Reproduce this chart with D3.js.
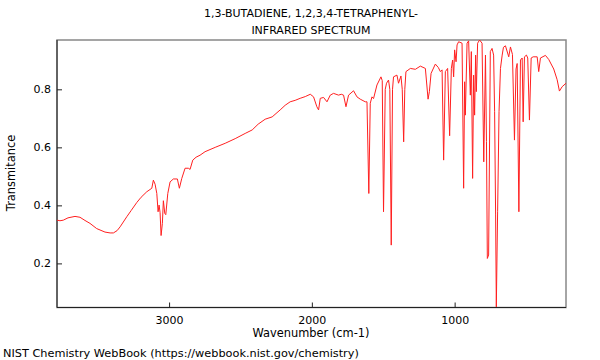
<!DOCTYPE html>
<html>
<head>
<meta charset="utf-8">
<script src="https://cdn.jsdelivr.net/npm/d3@7"></script>
<style>
  html, body { margin: 0; padding: 0; background: #fff; }
  svg { display: block; font-family: "DejaVu Sans", sans-serif; }
</style>
</head>
<body>
<svg id="chart" width="600" height="360"></svg>
<script>
// Wavenumber (cm-1)
const wavenumbers = [3785,3764,3741,3708,3659,3624,3589,3554,3507,3449,3413,3390,3364,3343,3296,3266,3226,3196,3156,3121,3110,3098,3086,3077,3070,3063,3056,3047,3040,3030,3023,3009,2993,2970,2942,2928,2911,2888,2865,2853,2834,2811,2783,2748,2677,2607,2537,2467,2418,2376,2327,2278,2222,2187,2152,2117,2082,2046,2011,1988,1965,1953,1941,1918,1894,1871,1848,1813,1794,1778,1761,1743,1708,1684,1661,1626,1614,1601,1591,1579,1568,1544,1516,1507,1498,1486,1477,1463,1454,1444,1435,1428,1404,1393,1376,1367,1357,1349,1341,1310,1275,1240,1205,1186,1177,1165,1135,1114,1100,1088,1077,1065,1049,1035,1023,1014,1007,1000,990,983,972,948,937,930,925,913,902,890,883,874,867,860,853,848,839,825,808,796,784,777,771,762,750,738,727,720,713,708,699,689,679,667,658,644,621,609,595,581,570,562,550,539,527,520,511,497,488,476,464,450,422,411,399,364,341,306,282,266,247,220];
// Transmittance
const transmittance = [0.349,0.347,0.349,0.357,0.362,0.359,0.348,0.338,0.320,0.308,0.305,0.305,0.313,0.326,0.361,0.382,0.410,0.428,0.447,0.459,0.487,0.473,0.441,0.378,0.401,0.375,0.296,0.338,0.416,0.372,0.368,0.441,0.481,0.491,0.491,0.459,0.493,0.528,0.528,0.524,0.556,0.566,0.573,0.585,0.600,0.614,0.630,0.648,0.660,0.680,0.697,0.705,0.729,0.745,0.757,0.762,0.769,0.775,0.783,0.774,0.740,0.729,0.769,0.772,0.757,0.780,0.786,0.780,0.783,0.780,0.740,0.780,0.795,0.774,0.766,0.757,0.757,0.441,0.752,0.774,0.768,0.815,0.843,0.830,0.378,0.800,0.821,0.832,0.800,0.263,0.800,0.843,0.849,0.821,0.846,0.800,0.619,0.800,0.861,0.872,0.869,0.880,0.872,0.766,0.792,0.855,0.887,0.875,0.861,0.867,0.556,0.861,0.872,0.640,0.872,0.901,0.843,0.936,0.895,0.953,0.964,0.959,0.459,0.826,0.711,0.959,0.967,0.780,0.930,0.493,0.849,0.711,0.918,0.792,0.959,0.970,0.959,0.550,0.918,0.620,0.217,0.229,0.930,0.941,0.918,0.723,0.367,0.050,0.378,0.723,0.872,0.918,0.945,0.950,0.912,0.946,0.920,0.625,0.870,0.889,0.378,0.901,0.908,0.688,0.912,0.918,0.908,0.694,0.908,0.912,0.912,0.861,0.908,0.917,0.903,0.870,0.833,0.794,0.809,0.821];

const xTicks = [3000, 2000, 1000];
const yTicks = [0.2, 0.4, 0.6, 0.8];
const titleLines = ["1,3-BUTADIENE, 1,2,3,4-TETRAPHENYL-", "INFRARED SPECTRUM"];
const xLabel = "Wavenumber (cm-1)";
const yLabel = "Transmitance";
const credit = "NIST Chemistry WebBook (https://webbook.nist.gov/chemistry)";

const xDomain = [3785, 220];
const yDomain = [0.048, 0.970];

const svg = d3.select("#chart");
const L = 57, R = 566, T = 40, B = 307.5;

const x = d3.scaleLinear().domain(xDomain).range([L, R]);
const y = d3.scaleLinear().domain(yDomain).range([B, T]);

// frame
svg.append("rect")
  .attr("x", L).attr("y", T).attr("width", R - L).attr("height", B - T)
  .attr("fill", "none").attr("stroke", "#888").attr("stroke-width", 1.5);

// minor ticks
const xMinor = d3.range(300, 3800, 100).filter(v => v <= xDomain[0] && v >= xDomain[1]);
const yMinor = d3.range(0.05, 0.97, 0.05).map(v => +v.toFixed(2));

const gx = svg.append("g").attr("transform", `translate(0,${B})`);
gx.call(d3.axisBottom(x).tickValues(xMinor).tickSize(-3).tickFormat(""))
  .call(g => g.select(".domain").remove());
gx.call(d3.axisBottom(x).tickValues(xTicks).tickSize(-5).tickPadding(9).tickFormat(d3.format("d")))
  .call(g => g.select(".domain").remove());

const gy = svg.append("g").attr("transform", `translate(${L},0)`);
gy.call(d3.axisLeft(y).tickValues(yMinor).tickSize(-3).tickFormat(""))
  .call(g => g.select(".domain").remove());
gy.call(d3.axisLeft(y).tickValues(yTicks).tickSize(-5).tickPadding(6).tickFormat(d3.format(".1f")))
  .call(g => g.select(".domain").remove());

svg.selectAll(".tick line").attr("stroke", "#222");
svg.selectAll(".tick text").attr("font-size", 11).attr("fill", "#000").attr("font-family", "DejaVu Sans");

// axis lines
svg.append("line").attr("x1", L).attr("x2", R).attr("y1", B).attr("y2", B).attr("stroke", "#222");
svg.append("line").attr("x1", L).attr("x2", L).attr("y1", T).attr("y2", B).attr("stroke", "#222");

// spectrum
const data = wavenumbers.map((w, i) => ({ w, t: transmittance[i] }));
svg.append("path")
  .datum(data)
  .attr("fill", "none")
  .attr("stroke", "#ff2020")
  .attr("stroke-width", 1)
  .attr("stroke-linejoin", "round")
  .attr("d", d3.line().x(d => x(d.w)).y(d => y(d.t)));

// titles
svg.selectAll(".title").data(titleLines).enter().append("text")
  .attr("x", 311).attr("y", (d, i) => 17 + i * 17)
  .attr("text-anchor", "middle").attr("font-size", 11).text(d => d);

svg.append("text").attr("x", 311).attr("y", 337)
  .attr("text-anchor", "middle").attr("font-size", 11.4).text(xLabel);

svg.append("text").attr("transform", "translate(15,173) rotate(-90)")
  .attr("text-anchor", "middle").attr("font-size", 11.4).text(yLabel);

svg.append("text").attr("x", 3).attr("y", 357)
  .attr("font-size", 11.3).text(credit);
</script>
</body>
</html>
